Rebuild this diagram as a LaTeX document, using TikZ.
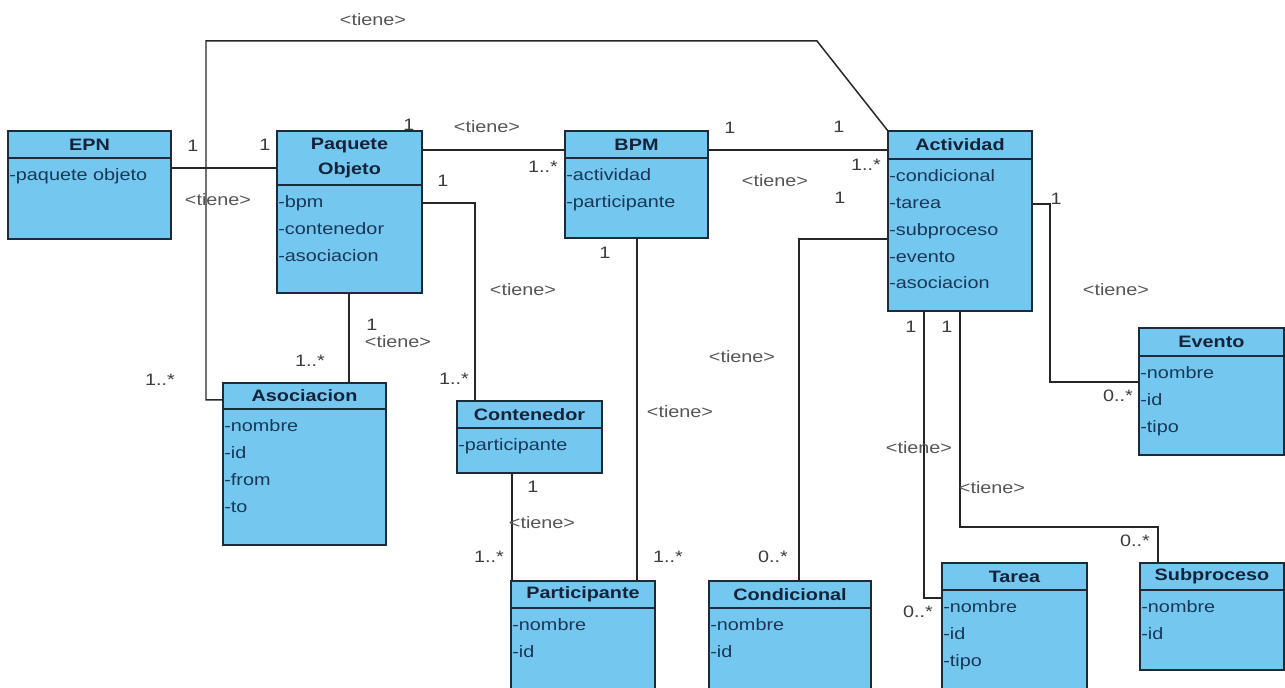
\documentclass[tikz,border=0pt]{standalone}
\usepackage{fontspec}
\setmainfont{Liberation Sans}[FakeStretch=1.2]
\usetikzlibrary{calc}

\definecolor{classfill}{RGB}{116,200,240}
\definecolor{classline}{RGB}{30,42,58}
\definecolor{attrtext}{RGB}{25,55,88}
\definecolor{titletext}{RGB}{20,35,58}
\definecolor{lbltext}{RGB}{60,60,60}
\definecolor{roletext}{RGB}{85,85,85}

% \umlclass{name}{x1}{y1}{x2}{y2}{header y}{title}{attributes}
\newcommand\umlclass[8]{%
  \node[classbox, anchor=north west,
        minimum width={(#4-#2)*0.02cm}, minimum height={(#5-#3)*0.02cm}] (#1) at (#2,#3) {};
  \draw[classsep] (#2,#6) -- (#4,#6);
  \node[classtitle] (#1-title) at ({(#2+#4)/2},{(#3+#6)/2}) {#7};
  \foreach \t [count=\i] in {#8} {%
    \node[attr] (#1-a\i) at (#2+1,{#6+23+26.7*(\i-1)}) {\t};
  }%
}

\begin{document}
\begin{tikzpicture}[x=0.02cm,y=-0.02cm,
  classbox/.style={draw=classline, fill=classfill, line width=0.9pt, inner sep=0pt, outer sep=0pt},
  classsep/.style={draw=classline, line width=0.9pt},
  classtitle/.style={font=\fontsize{9.4}{14.7}\selectfont\bfseries, text=titletext, align=center, inner sep=0pt},
  attr/.style={font=\fontsize{9.4}{15}\selectfont, text=attrtext, anchor=base west, inner sep=0pt},
  assoc/.style={draw=black!85, line width=0.85pt},
  mult/.style={font=\fontsize{9.4}{11}\selectfont, text=lbltext, inner sep=0pt},
  role/.style={font=\fontsize{9.4}{11}\selectfont, text=roletext, inner sep=0pt}]

\useasboundingbox (0,0) rectangle (1285,688);
\clip (0,0) rectangle (1285,688);

% ---- associations (drawn first, boxes on top) ----
\coordinate (topL) at (206,41);
\coordinate (topR) at (817,41);

% classes
\umlclass{EPN}{8}{131}{171}{239}{158}{EPN}{-paquete objeto}
\umlclass{PO}{277}{131}{422}{293}{185}{Paquete\\Objeto}{-bpm,-contenedor,-asociacion}
\umlclass{BPM}{565}{131}{708}{238}{158}{BPM}{-actividad,-participante}
\umlclass{Act}{888}{131}{1032}{311}{159}{Actividad}{-condicional,-tarea,-subproceso,-evento,-asociacion}
\umlclass{Ev}{1139}{328}{1284}{455}{356}{Evento}{-nombre,-id,-tipo}
\umlclass{Asoc}{223}{383}{386}{545}{409}{Asociacion}{-nombre,-id,-from,-to}
\umlclass{Cont}{457}{401}{602}{473}{428}{Contenedor}{-participante}
\umlclass{Part}{511}{581}{655}{700}{608}{Participante}{-nombre,-id}
\umlclass{Cond}{709}{581}{871}{700}{608}{Condicional}{-nombre,-id}
\umlclass{Tar}{942}{563}{1087}{700}{590}{Tarea}{-nombre,-id,-tipo}
\umlclass{Sub}{1140}{563}{1284}{670}{590}{Subproceso}{-nombre,-id}

% EPN -- Paquete Objeto
\draw[assoc] ($(EPN.north east)+(0,37)$) -- ($(PO.north west)+(0,37)$);
% Asociacion -- Actividad (long path over the top)
\draw[assoc] ($(Asoc.north west)+(0,17)$) -| (topL) -- (topR) -- (Act.north west);
% Paquete Objeto -- BPM
\draw[assoc] ($(PO.north east)+(0,19)$) -- ($(BPM.north west)+(0,19)$);
% Paquete Objeto -- Contenedor
\draw[assoc] ($(PO.north east)+(0,72)$) -| ($(Cont.north west)+(18,0)$);
% Paquete Objeto -- Asociacion
\draw[assoc] ($(PO.south west)+(72,0)$) -- ($(Asoc.north west)+(126,0)$);
% BPM -- Actividad
\draw[assoc] ($(BPM.north east)+(0,19)$) -- ($(Act.north west)+(0,19)$);
% BPM -- Participante
\draw[assoc] ($(BPM.south west)+(72,0)$) -- ($(Part.north west)+(126,0)$);
% Contenedor -- Participante
\draw[assoc] ($(Cont.south west)+(55,0)$) -- ($(Part.north west)+(1,0)$);
% Actividad -- Condicional
\draw[assoc] ($(Act.north west)+(0,108)$) -| ($(Cond.north west)+(90,0)$);
% Actividad -- Evento
\coordinate (evBend) at (1050,382);
\draw[assoc] ($(Act.north east)+(0,73)$) -| (evBend) -- ($(Ev.north west)+(0,54)$);
% Actividad -- Tarea
\draw[assoc] ($(Act.south west)+(36,0)$) |- ($(Tar.north west)+(0,35)$);
% Actividad -- Subproceso
\coordinate (subBend) at (1158,527);
\draw[assoc] ($(Act.south west)+(72,0)$) |- (subBend) -- ($(Sub.north west)+(18,0)$);

% ---- association labels ----
\node[role] (r1) at (373,20) {<tiene>};
\node[mult] (m1) at (160,380) {1..*};
\node[mult] (m2) at (839,127) {1};

\node[mult] (m3) at (193,146) {1};
\node[mult] (m4) at (265,145) {1};
\node[role] (r2) at (218,200) {<tiene>};

\node[mult] (m5) at (409,125) {1};
\node[role] (r3) at (487,127) {<tiene>};
\node[mult] (m6) at (543,167) {1..*};

\node[mult] (m7) at (443,181) {1};
\node[role] (r4) at (523,290) {<tiene>};
\node[mult] (m8) at (454,379) {1..*};

\node[mult] (m9) at (372,325) {1};
\node[role] (r5) at (398,342) {<tiene>};
\node[mult] (m10) at (310,361) {1..*};

\node[mult] (m11) at (730,128) {1};
\node[role] (r6) at (775,181) {<tiene>};
\node[mult] (m12) at (866,165) {1..*};

\node[mult] (m13) at (605,253) {1};
\node[role] (r7) at (680,412) {<tiene>};
\node[mult] (m14) at (668,557) {1..*};

\node[mult] (m15) at (533,487) {1};
\node[role] (r8) at (542,523) {<tiene>};
\node[mult] (m16) at (489,557) {1..*};

\node[mult] (m17) at (840,198) {1};
\node[role] (r9) at (742,357) {<tiene>};
\node[mult] (m18) at (773,557) {0..*};

\node[mult] (m19) at (1056,199) {1};
\node[role] (r10) at (1116,290) {<tiene>};
\node[mult] (m20) at (1118,396) {0..*};

\node[mult] (m21) at (911,327) {1};
\node[role] (r11) at (919,448) {<tiene>};
\node[mult] (m22) at (918,612) {0..*};

\node[mult] (m23) at (947,327) {1};
\node[role] (r12) at (992,488) {<tiene>};
\node[mult] (m24) at (1135,541) {0..*};

\end{tikzpicture}
\end{document}
